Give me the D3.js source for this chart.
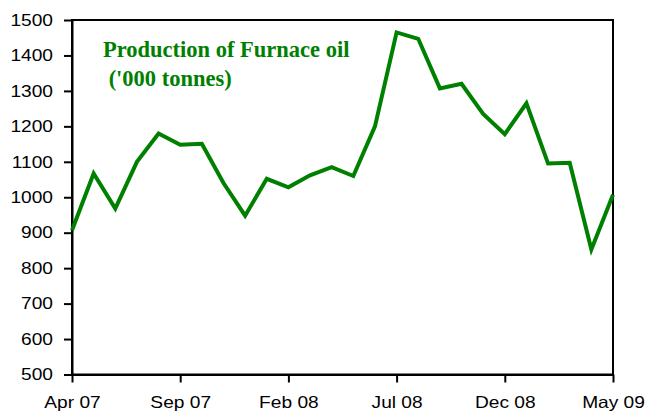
<!DOCTYPE html>
<html>
<head>
<meta charset="utf-8">
<script src="https://cdn.jsdelivr.net/npm/d3@7"></script>
<style>
  html, body { margin: 0; padding: 0; background: #fff; }
  svg { display: block; }
</style>
</head>
<body>
<svg id="chart" width="647" height="415"></svg>
<script>
// Monthly production, Apr 07 to May 09 ('000 tonnes)
const months = ["Apr 07","May 07","Jun 07","Jul 07","Aug 07","Sep 07","Oct 07","Nov 07","Dec 07",
  "Jan 08","Feb 08","Mar 08","Apr 08","May 08","Jun 08","Jul 08","Aug 08","Sep 08","Oct 08",
  "Nov 08","Dec 08","Jan 09","Feb 09","Mar 09","Apr 09","May 09"];
const production = [907, 1067, 968, 1100, 1180, 1148, 1151, 1040, 948, 1052, 1028, 1062, 1085,
  1060, 1200, 1465, 1447, 1307, 1320, 1235, 1178, 1265, 1095, 1097, 853, 1007];
const yTicks = [500, 600, 700, 800, 900, 1000, 1100, 1200, 1300, 1400, 1500];
const xTickLabels = ["Apr 07", "Sep 07", "Feb 08", "Jul 08", "Dec 08", "May 09"];
const titleLines = ["Production of Furnace oil", " ('000 tonnes)"];

const margin = { left: 72, right: 34, top: 20, bottom: 40.5 };
const W = 647, H = 415;
const svg = d3.select("#chart");

const x = d3.scalePoint().domain(months).range([margin.left, W - margin.right]);
const y = d3.scaleLinear().domain([500, 1500]).range([H - margin.bottom, margin.top]);

// Frame around the plot area (top and right edges)
svg.append("rect")
  .attr("x", margin.left).attr("y", margin.top)
  .attr("width", W - margin.right - margin.left)
  .attr("height", H - margin.bottom - margin.top)
  .attr("fill", "none").attr("stroke", "#000").attr("stroke-width", 2);

// Y axis
const yAxis = svg.append("g")
  .attr("transform", `translate(${margin.left},0)`)
  .call(d3.axisLeft(y).tickValues(yTicks).tickFormat(d3.format("d"))
    .tickSize(8).tickPadding(11).tickSizeOuter(0));

// X axis
const xAxis = svg.append("g")
  .attr("transform", `translate(0,${H - margin.bottom})`)
  .call(d3.axisBottom(x).tickValues(xTickLabels).tickSize(8).tickPadding(14).tickSizeOuter(0));

[yAxis, xAxis].forEach(g => {
  g.select(".domain").attr("stroke", "#000").attr("stroke-width", 2);
  g.selectAll(".tick line").attr("stroke", "#000").attr("stroke-width", 2);
  g.selectAll(".tick text")
    .attr("fill", "#000")
    .style("font-family", "'Liberation Sans', Arial, sans-serif")
    .style("font-size", "16.5px")
    .each(function () {
      // slightly wide lettering for the axis labels
      const len = this.getComputedTextLength();
      d3.select(this).attr("textLength", len * 1.16).attr("lengthAdjust", "spacingAndGlyphs");
    });
});

// Production line
const line = d3.line()
  .x((d, i) => x(months[i]))
  .y(d => y(d));

svg.append("path")
  .datum(production)
  .attr("d", line)
  .attr("fill", "none")
  .attr("stroke", "#008000")
  .attr("stroke-width", 4)
  .attr("stroke-linejoin", "miter");

// Title inside the plot
svg.append("text")
  .attr("x", 103).attr("y", 57)
  .attr("fill", "#008000")
  .style("font-family", "'Liberation Serif', 'Times New Roman', serif")
  .style("font-weight", "bold")
  .style("font-size", "22.5px")
  .style("white-space", "pre")
  .selectAll("tspan")
  .data(titleLines)
  .join("tspan")
  .attr("x", 103)
  .attr("dy", (d, i) => i === 0 ? 0 : 29)
  .text(d => d);
</script>
</body>
</html>
